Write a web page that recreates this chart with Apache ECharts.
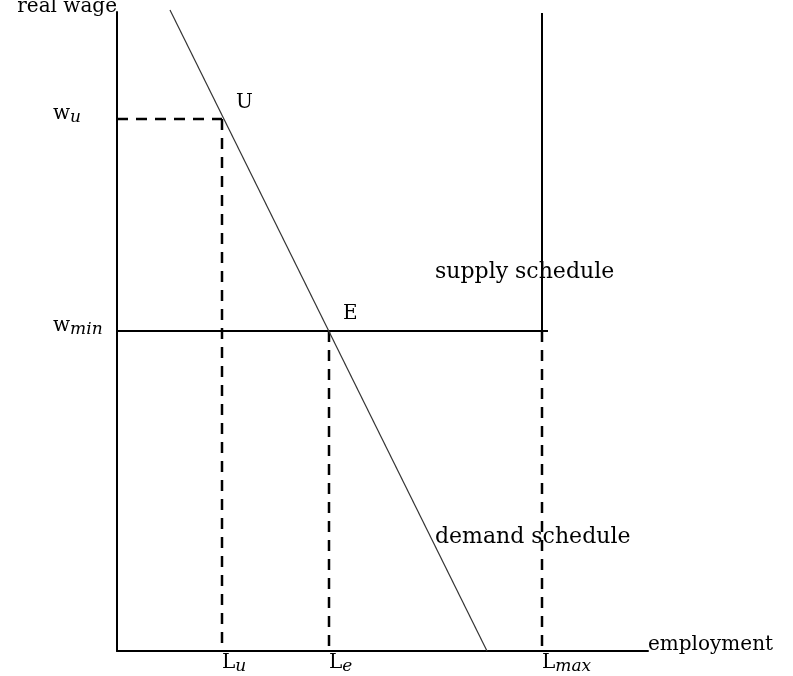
<!DOCTYPE html>
<html>
<head>
<meta charset="utf-8">
<script src="https://cdn.jsdelivr.net/npm/echarts@6/dist/echarts.min.js"></script>
<style>
  html, body { margin: 0; padding: 0; background: #fff; }
  #chart { width: 793px; height: 676px; }
</style>
</head>
<body>
<div id="chart"></div>
<script>
// axis ticks (employment / real wage): [main, subscript]
const empTicks = [105, 212, 425];
const empLabels = [['L', 'u'], ['L', 'e'], ['L', 'max']];
const wageTicks = [532, 320];
const wageLabels = [['w', 'u'], ['w', 'min']];

// curves
const demand = [[53, 641], [370, 0]];
const supplyVertical = [[425, 638], [425, 320]];
const minWageLine = [[0, 320], [431, 320]];

// dashed guides
const guideWu = [[0, 532], [105, 532]];
const guideLu = [[105, 532], [105, 0]];
const guideLe = [[212, 320], [212, 0]];
const guideLmax = [[425, 320], [425, 0]];

// text notes [x, y, text]
const points = [
  [119, 548, 'U'],
  [226, 337, 'E']
];
const schedules = [
  [318, 379, 'supply schedule'],
  [318, 114, 'demand schedule']
];

const font = 'DejaVu Serif';
const subRich = {
  m: { fontFamily: font, fontSize: 20, lineHeight: 20, color: '#000' },
  s: { fontFamily: font, fontSize: 17, fontStyle: 'italic', lineHeight: 16, padding: [7, 0, 0, 0], color: '#000' }
};

function subLabel(ticks, labels) {
  return function (v) {
    var i = ticks.indexOf(v);
    return i >= 0 ? '{m|' + labels[i][0] + '}{s|' + labels[i][1] + '}' : '';
  };
}

var myChart = echarts.init(document.getElementById('chart'));

function guide(data) {
  return {
    type: 'line',
    data: data,
    symbol: 'none',
    clip: false,
    silent: true,
    lineStyle: { color: '#000', width: 2.5, type: [11, 8] }
  };
}

function notes(data, size) {
  return {
    type: 'scatter',
    data: data,
    symbolSize: 0,
    clip: false,
    itemStyle: { opacity: 1 },
    label: {
      show: true,
      position: 'right',
      distance: 0,
      fontFamily: font,
      fontSize: size,
      color: '#000',
      formatter: function (p) { return p.data[2]; }
    }
  };
}

var option = {
  animation: false,
  backgroundColor: '#fff',
  grid: { left: 117, right: 145, top: 12, bottom: 25, outerBoundsMode: 'none' },
  xAxis: {
    type: 'value',
    min: 0,
    max: 531,
    name: 'employment',
    nameLocation: 'end',
    nameGap: 0,
    nameTextStyle: { fontFamily: font, fontSize: 20, color: '#000', align: 'left', verticalAlign: 'bottom', lineHeight: 20, padding: [0, 0, -4, 0] },
    axisLine: { show: true, lineStyle: { color: '#000', width: 2 } },
    axisTick: { show: false },
    splitLine: { show: false },
    axisLabel: {
      customValues: empTicks,
      margin: 2,
      align: 'left',
      formatter: subLabel(empTicks, empLabels),
      rich: subRich
    }
  },
  yAxis: {
    type: 'value',
    min: 0,
    max: 639,
    name: 'real wage',
    nameLocation: 'end',
    nameGap: 5,
    nameTextStyle: { fontFamily: font, fontSize: 20, color: '#000', align: 'right', verticalAlign: 'middle' },
    axisLine: { show: true, lineStyle: { color: '#000', width: 2 } },
    axisTick: { show: false },
    splitLine: { show: false },
    axisLabel: {
      customValues: wageTicks,
      margin: 64,
      align: 'left',
      verticalAlign: 'bottom',
      padding: [0, 0, -5, 0],
      formatter: subLabel(wageTicks, wageLabels),
      rich: subRich
    }
  },
  series: [
    guide(guideWu),
    guide(guideLu),
    guide(guideLe),
    guide(guideLmax),
    notes(points, 20),
    notes(schedules, 22),
    {
      type: 'line',
      data: minWageLine,
      symbol: 'none',
      clip: false,
      lineStyle: { color: '#000', width: 2 }
    },
    {
      type: 'line',
      data: supplyVertical,
      symbol: 'none',
      clip: false,
      lineStyle: { color: '#000', width: 2 }
    },
    {
      type: 'line',
      data: demand,
      symbol: 'none',
      clip: false,
      lineStyle: { color: '#333', width: 1.2 }
    }
  ]
};

myChart.setOption(option);
window.addEventListener('resize', () => {
  myChart.resize()
})
</script>
</body>
</html>
